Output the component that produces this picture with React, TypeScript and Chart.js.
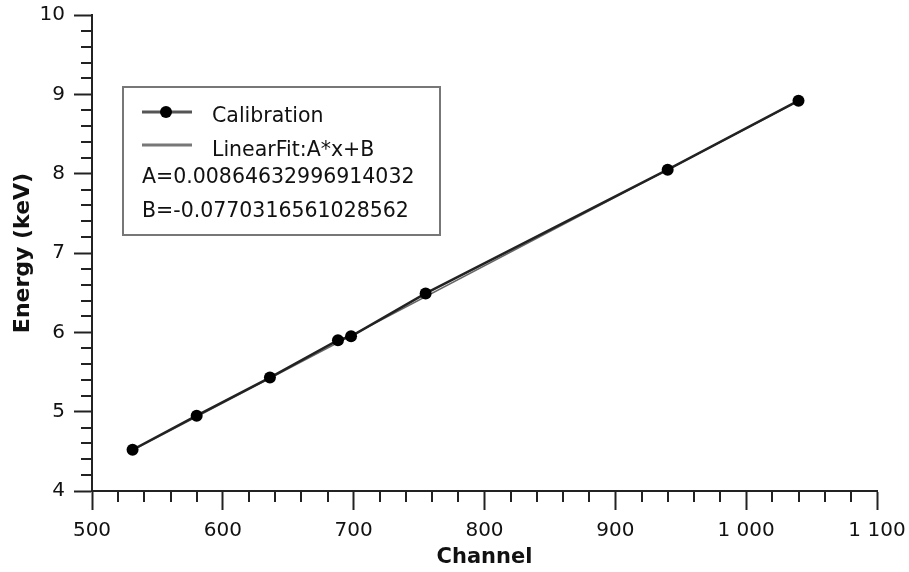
import React, { useEffect, useRef } from 'react';
import { Chart, registerables } from 'chart.js';

Chart.register(...registerables);

// ---- data ----
const channels = [531, 580, 636, 688, 698, 755, 940, 1040];
const energies = [4.52, 4.95, 5.43, 5.9, 5.95, 6.49, 8.05, 8.92];
const fitChannels = [531, 1040];
const fitEnergies = [4.514, 8.915];
const seriesNames = ['Calibration', 'LinearFit:A*x+B'];
const fitParams = ['A=0.00864632996914032', 'B=-0.0770316561028562'];
const xRange = [500, 1100];
const yRange = [4, 10];
const xMajorStep = 100;
const xMinorStep = 20;
const yMajorStep = 1;
const yMinorStep = 0.2;
const xTitle = 'Channel';
const yTitle = 'Energy (keV)';

const FONT = '"DejaVu Sans", Verdana, sans-serif';
const AXIS_COLOR = '#222';
const TEXT_COLOR = '#111';

function fmtThousands(v: number): string {
  const n = Math.round(v);
  if (Math.abs(n) >= 1000) {
    const th = Math.floor(n / 1000);
    const rest = String(n % 1000).padStart(3, '0');
    return `${th} ${rest}`;
  }
  return String(n);
}

const minorTicksPlugin = {
  id: 'minorTicks',
  afterDraw(chart: any) {
    const ctx = chart.ctx;
    const xs = chart.scales.x;
    const ys = chart.scales.y;
    const area = chart.chartArea;
    ctx.save();
    ctx.strokeStyle = AXIS_COLOR;
    ctx.lineWidth = 2;
    const nx = Math.round((xRange[1] - xRange[0]) / xMinorStep);
    for (let i = 0; i <= nx; i++) {
      const v = xRange[0] + i * xMinorStep;
      if (Math.abs(v / xMajorStep - Math.round(v / xMajorStep)) < 1e-6) continue;
      const px = Math.round(xs.getPixelForValue(v));
      ctx.beginPath();
      ctx.moveTo(px, area.bottom);
      ctx.lineTo(px, area.bottom + 11);
      ctx.stroke();
    }
    const ny = Math.round((yRange[1] - yRange[0]) / yMinorStep);
    for (let i = 0; i <= ny; i++) {
      const v = yRange[0] + i * yMinorStep;
      if (Math.abs(v / yMajorStep - Math.round(v / yMajorStep)) < 1e-6) continue;
      const py = Math.round(ys.getPixelForValue(v));
      ctx.beginPath();
      ctx.moveTo(area.left, py);
      ctx.lineTo(area.left - 11, py);
      ctx.stroke();
    }
    ctx.restore();
  },
};

const boxLegendPlugin = {
  id: 'boxLegend',
  afterDraw(chart: any) {
    const ctx = chart.ctx;
    const area = chart.chartArea;
    const bx = area.left + 31;
    const by = area.top + 72;
    const bw = 317;
    const bh = 148;
    ctx.save();
    ctx.fillStyle = '#fff';
    ctx.fillRect(bx, by, bw, bh);
    ctx.strokeStyle = '#777';
    ctx.lineWidth = 2;
    ctx.strokeRect(bx, by, bw, bh);

    // row 1: calibration sample
    const lx0 = bx + 19;
    const lx1 = bx + 69;
    const r1 = by + 25;
    ctx.strokeStyle = '#555';
    ctx.lineWidth = 3;
    ctx.beginPath();
    ctx.moveTo(lx0, r1);
    ctx.lineTo(lx1, r1);
    ctx.stroke();
    ctx.fillStyle = '#000';
    ctx.beginPath();
    ctx.arc(lx0 + 24, r1, 6, 0, Math.PI * 2);
    ctx.fill();

    // row 2: fit sample
    const r2 = by + 58;
    ctx.strokeStyle = '#777';
    ctx.lineWidth = 3;
    ctx.beginPath();
    ctx.moveTo(lx0, r2);
    ctx.lineTo(lx1, r2);
    ctx.stroke();

    ctx.fillStyle = TEXT_COLOR;
    ctx.font = `20.5px ${FONT}`;
    ctx.textAlign = 'left';
    ctx.textBaseline = 'alphabetic';
    ctx.fillText(seriesNames[0], bx + 89, by + 35);
    ctx.fillText(seriesNames[1], bx + 89, by + 69);
    ctx.fillText(fitParams[0], bx + 19, by + 96);
    ctx.fillText(fitParams[1], bx + 19, by + 130);
    ctx.restore();
  },
};

export default function App() {
  const ref = useRef<HTMLCanvasElement | null>(null);

  useEffect(() => {
    if (!ref.current) return;
    const chart = new Chart(ref.current, {
      type: 'scatter',
      data: {
        datasets: [
          {
            label: seriesNames[0],
            data: channels.map((c, i) => ({ x: c, y: energies[i] })),
            showLine: true,
            borderColor: '#222',
            borderWidth: 2.5,
            pointRadius: 6,
            pointBackgroundColor: '#000',
            pointBorderColor: '#000',
            pointBorderWidth: 0,
          },
          {
            label: seriesNames[1],
            data: fitChannels.map((c, i) => ({ x: c, y: fitEnergies[i] })),
            showLine: true,
            borderColor: '#666',
            borderWidth: 1.5,
            pointRadius: 0,
          },
        ],
      },
      options: {
        responsive: false,
        animation: false,
        events: [],
        layout: { padding: { left: 0, top: 15, right: 32, bottom: 0 } },
        plugins: {
          legend: { display: false },
          tooltip: { enabled: false },
        },
        scales: {
          x: {
            type: 'linear',
            min: xRange[0],
            max: xRange[1],
            afterFit: (s: any) => {
              s.height = 81;
              s.paddingLeft = 0;
              s.paddingRight = 0;
            },
            ticks: {
              stepSize: xMajorStep,
              padding: 11,
              color: TEXT_COLOR,
              font: { family: FONT, size: 20, lineHeight: 1 },
              callback: (v: any) => fmtThousands(Number(v)),
              maxRotation: 0,
              autoSkip: false,
            },
            grid: {
              drawOnChartArea: false,
              drawTicks: true,
              tickLength: 19,
              tickWidth: 2,
              tickColor: AXIS_COLOR,
            },
            border: { display: true, color: AXIS_COLOR, width: 2 },
            title: {
              display: true,
              text: xTitle,
              color: TEXT_COLOR,
              font: { family: FONT, size: 21, weight: 'bold', lineHeight: 1 },
              padding: { top: 0, bottom: 4 },
            },
          },
          y: {
            type: 'linear',
            min: yRange[0],
            max: yRange[1],
            afterFit: (s: any) => {
              s.width = 92;
              s.paddingTop = 0;
              s.paddingBottom = 0;
            },
            ticks: {
              stepSize: yMajorStep,
              padding: 9,
              color: TEXT_COLOR,
              font: { family: FONT, size: 20, lineHeight: 1 },
              autoSkip: false,
            },
            grid: {
              drawOnChartArea: false,
              drawTicks: true,
              tickLength: 18,
              tickWidth: 2,
              tickColor: AXIS_COLOR,
            },
            border: { display: true, color: AXIS_COLOR, width: 2 },
            title: {
              display: true,
              text: yTitle,
              color: TEXT_COLOR,
              font: { family: FONT, size: 22, weight: 'bold', lineHeight: 1 },
              padding: { top: 12, bottom: 0 },
            },
          },
        },
      },
      plugins: [minorTicksPlugin, boxLegendPlugin],
    } as any);
    return () => chart.destroy();
  }, []);

  return (
    <div style={{ position: 'absolute', left: 0, top: 0, width: 909, height: 572, background: '#fff' }}>
      <canvas ref={ref} width={909} height={572} style={{ width: 909, height: 572, display: 'block' }} />
    </div>
  );
}
